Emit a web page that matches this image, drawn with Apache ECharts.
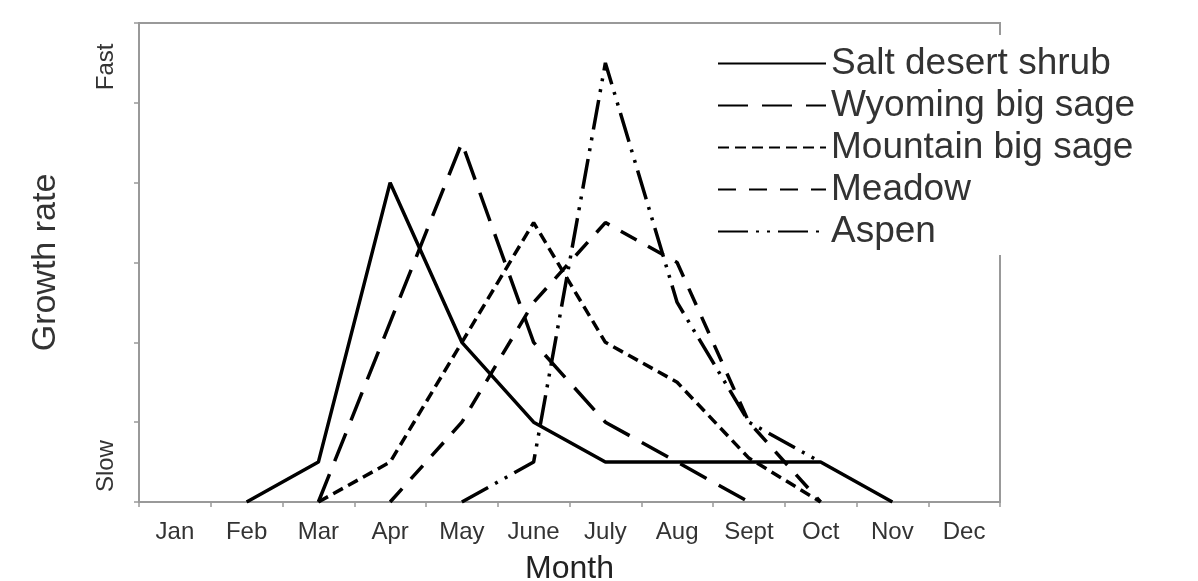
<!DOCTYPE html>
<html>
<head>
<meta charset="utf-8">
<script src="https://cdn.jsdelivr.net/npm/echarts@6/dist/echarts.min.js"></script>
<style>
html,body{margin:0;padding:0;background:#fff;}
#chart{width:1198px;height:581px;}
</style>
</head>
<body>
<div id="chart"></div>
<script>
var months = ['Jan','Feb','Mar','Apr','May','June','July','Aug','Sept','Oct','Nov','Dec'];
var saltDesertShrub = [null, 0, 0.5, 4.0, 2.0, 1.0, 0.5, 0.5, 0.5, 0.5, 0, null];
var wyomingBigSage  = [null, null, 0, 2.25, 4.5, 2.0, 1.0, 0.5, 0, null, null, null];
var mountainBigSage = [null, null, 0, 0.5, 2.0, 3.5, 2.0, 1.5, 0.55, 0, null, null];
var meadow          = [null, null, null, 0, 1.0, 2.5, 3.5, 3.0, 1.0, 0, null, null];
var aspen           = [null, null, null, null, 0, 0.5, 5.5, 2.5, 1.0, 0.5, null, null];
var yLabelValues = [0.45, 5.45];
var yLabelTexts  = ['Slow', 'Fast'];

var FONT = "'Liberation Sans', Arial, sans-serif";
var chart = echarts.init(document.getElementById('chart'), null, {renderer: 'canvas'});

function lineSeries(name, data, type) {
  return {
    name: name, type: 'line', data: data, yAxisIndex: 0,
    symbol: 'none', showSymbol: false, connectNulls: false,
    lineStyle: {color: '#000', width: 3.5, type: type},
    itemStyle: {color: '#000'},
    emphasis: {disabled: true},
    animation: false
  };
}

chart.setOption({
  backgroundColor: '#fff',
  animation: false,
  grid: {left: 139, right: 198, top: 23, bottom: 79, containLabel: false, outerBoundsMode: 'none',
         show: true, borderColor: '#999', borderWidth: 2, backgroundColor: 'transparent'},
  legend: {
    orient: 'vertical', left: 687, top: 35,
    padding: [10, 66, 5, 30],
    backgroundColor: '#fff',
    itemWidth: 108, itemHeight: 20, itemGap: 5,
    itemStyle: {opacity: 0},
    textStyle: {fontFamily: FONT, fontSize: 37, color: '#333', lineHeight: 37},
    data: ['Salt desert shrub', 'Wyoming big sage', 'Mountain big sage', 'Meadow', 'Aspen']
  },
  xAxis: {
    type: 'category', data: months, boundaryGap: true,
    name: 'Month', nameLocation: 'middle', nameGap: 51,
    nameTextStyle: {fontFamily: FONT, fontSize: 32, color: '#222'},
    axisLine: {lineStyle: {color: '#999', width: 2}},
    axisTick: {show: true, length: 5, lineStyle: {color: '#999', width: 1.5}},
    axisLabel: {fontFamily: FONT, fontSize: 24, color: '#333', margin: 18, interval: 0},
    splitLine: {show: false}
  },
  yAxis: [{
    type: 'value', min: 0, max: 6, interval: 1,
    name: 'Growth rate', nameLocation: 'middle', nameGap: 76, nameRotate: 90,
    nameTextStyle: {fontFamily: FONT, fontSize: 34, color: '#333'},
    axisLine: {show: true, lineStyle: {color: '#999', width: 2}},
    axisTick: {show: true, length: 5, lineStyle: {color: '#999', width: 1.5}},
    axisLabel: {show: false},
    splitLine: {show: false}
  }, {
    type: 'value', min: 0, max: 6, interval: 0.05, position: 'left',
    axisLine: {show: false}, axisTick: {show: false}, splitLine: {show: false},
    axisLabel: {
      show: true, rotate: 90, margin: 21, fontFamily: FONT, fontSize: 24, color: '#333',
      hideOverlap: false,
      formatter: function (v) {
        for (var i = 0; i < yLabelValues.length; i++) {
          if (Math.abs(v - yLabelValues[i]) < 1e-4) return yLabelTexts[i];
        }
        return '';
      }
    }
  }],
  series: [
    lineSeries('Salt desert shrub', saltDesertShrub, 'solid'),
    lineSeries('Wyoming big sage', wyomingBigSage, [30, 14]),
    lineSeries('Mountain big sage', mountainBigSage, [11, 6]),
    lineSeries('Meadow', meadow, [18, 13]),
    lineSeries('Aspen', aspen, [30, 8, 3, 8, 3, 8])
  ]
});
</script>
</body>
</html>
